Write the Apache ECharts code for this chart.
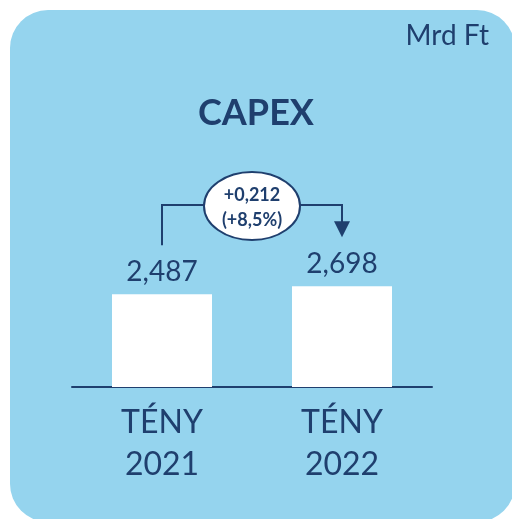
<!DOCTYPE html>
<html>
<head>
<meta charset="utf-8">
<script src="https://cdn.jsdelivr.net/npm/echarts@6/dist/echarts.min.js"></script>
<style>
  html,body{margin:0;padding:0;background:#fff}
  #chart{width:512px;height:519px}
</style>
</head>
<body>
<div id="chart"></div>
<script>
const categories=['TÉNY\n2021','TÉNY\n2022']
const values=[2.487,2.698]
const valueLabels=['2,487','2,698']
const deltaText=['+0,212','(+8,5%)']

const navy='#1f3f6e'
const font='Lato'
const panel={
  type:'rect',
  z:-10,
  shape:{x:10,y:10,width:505,height:512,r:38},
  style:{fill:'#95d4ee'}
}

const myChart=echarts.init(document.querySelector('#chart'))
const option={
  animation:false,
  textStyle:{fontFamily:font},
  graphic:[panel],
  title:[{
    text:'CAPEX',
    left:'center',
    top:90,
    textStyle:{fontSize:36,fontWeight:'bold',color:navy,fontFamily:font}
  },{
    text:'Mrd Ft',
    right:18,
    top:17,
    textStyle:{fontSize:28,fontWeight:'normal',color:navy,fontFamily:font}
  }],
  grid:{left:72,right:80,top:163,bottom:132},
  xAxis:{
    type:'category',
    data:categories,
    axisLine:{lineStyle:{color:navy,width:2}},
    axisTick:{show:false},
    axisLabel:{fontSize:32,lineHeight:42,color:navy,margin:15,fontFamily:font}
  },
  yAxis:{type:'value',min:0,max:6,show:false,splitLine:{show:false}},
  series:[{
    type:'bar',
    data:values,
    barWidth:100,
    itemStyle:{color:'#fff'},
    label:{
      show:true,
      position:'top',
      distance:8,
      fontSize:28,
      color:navy,
      fontFamily:font,
      formatter:p=>valueLabels[p.dataIndex]
    }
  }]
}
myChart.setOption(option)

// bracket with ellipse between the two bars
const p1=myChart.convertToPixel({seriesIndex:0},[0,values[0]])
const p2=myChart.convertToPixel({seriesIndex:0},[1,values[1]])
const by=205
const cx=(p1[0]+p2[0])/2
const tip=p2[1]-49
myChart.setOption({
  graphic:[panel,{
    type:'polyline',
    shape:{points:[[p1[0],p1[1]-49],[p1[0],by],[p2[0],by],[p2[0],tip-14]]},
    style:{stroke:navy,lineWidth:2,fill:null}
  },{
    type:'polygon',
    shape:{points:[[p2[0]-8,tip-16],[p2[0]+8,tip-16],[p2[0],tip]]},
    style:{fill:navy}
  },{
    type:'ellipse',
    shape:{cx:cx,cy:by+1,rx:48,ry:34},
    style:{fill:'#fff',stroke:navy,lineWidth:2}
  },{
    type:'text',
    x:cx,
    y:by+3,
    style:{
      text:deltaText.join('\n'),
      fontSize:18,
      lineHeight:25,
      fontWeight:'bold',
      fontFamily:font,
      fill:navy,
      align:'center',
      verticalAlign:'middle'
    }
  }]
})
</script>
</body>
</html>
